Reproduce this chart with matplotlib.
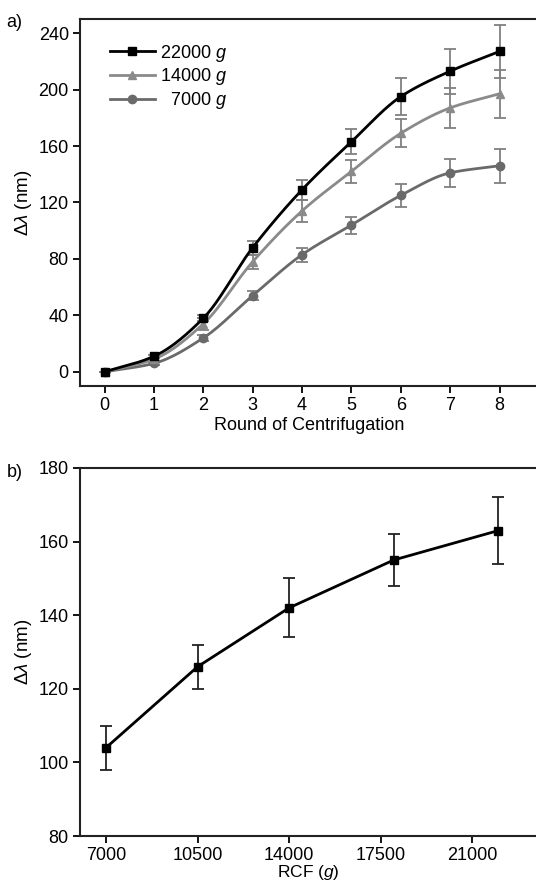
import numpy as np
import matplotlib
matplotlib.use("Agg")
import matplotlib.pyplot as plt

plt.rcParams['font.family'] = ['Liberation Sans', 'DejaVu Sans']
plt.rcParams['mathtext.fontset'] = 'custom'
plt.rcParams['mathtext.rm'] = 'Liberation Sans'
plt.rcParams['mathtext.it'] = 'Liberation Sans:italic'
plt.rcParams['font.size'] = 12

# panel a data
rounds = [0, 1, 2, 3, 4, 5, 6, 7, 8]
g22000 = [0, 11, 38, 88, 129, 163, 195, 213, 227]
g22000_err = [0, 1, 2, 5, 7, 9, 13, 16, 19]
g14000 = [0, 9, 34, 78, 114, 142, 169, 187, 197]
g14000_err = [0, 1, 4, 5, 8, 8, 10, 14, 17]
g7000 = [0, 6, 24, 54, 83, 104, 125, 141, 146]
g7000_err = [0, 1, 2, 3, 5, 6, 8, 10, 12]

# panel b data
rcf = [7000, 10500, 14000, 18000, 22000]
shift = [104, 126, 142, 155, 163]
shift_err = [6, 6, 8, 7, 9]


def smooth(x, y, n=200):
    # monotone cubic (pchip) curve through the points, for drawing only
    x = np.asarray(x, float)
    y = np.asarray(y, float)
    h = np.diff(x)
    d = np.diff(y) / h
    m = np.zeros_like(y)
    for i in range(1, len(x) - 1):
        if d[i - 1] * d[i] > 0:
            w1 = 2 * h[i] + h[i - 1]
            w2 = h[i] + 2 * h[i - 1]
            m[i] = (w1 + w2) / (w1 / d[i - 1] + w2 / d[i])
    m[0] = d[0]
    m[-1] = d[-1]
    xs = np.linspace(x[0], x[-1], n)
    idx = np.clip(np.searchsorted(x, xs) - 1, 0, len(x) - 2)
    t = (xs - x[idx]) / h[idx]
    h00 = 2 * t ** 3 - 3 * t ** 2 + 1
    h10 = t ** 3 - 2 * t ** 2 + t
    h01 = -2 * t ** 3 + 3 * t ** 2
    h11 = t ** 3 - t ** 2
    ys = h00 * y[idx] + h10 * h[idx] * m[idx] + h01 * y[idx + 1] + h11 * h[idx] * m[idx + 1]
    return xs, ys


fig = plt.figure(figsize=(5.36, 8.83), dpi=100)
ax1 = fig.add_axes([0.149, 0.5629, 1.0056 - 0.149, 0.9785 - 0.5629])
ax2 = fig.add_axes([0.149, 0.0532, 1.003 - 0.149, 0.470 - 0.0532])

series = [
    (g22000, g22000_err, '#000000', 's', '22000 $g$'),
    (g14000, g14000_err, '#8a8a8a', '^', '14000 $g$'),
    (g7000, g7000_err, '#6a6a6a', 'o', '  7000 $g$'),
]
for vals, err, col, mk, lab in series[::-1]:
    ax1.errorbar(rounds, vals, yerr=err, fmt='none', ecolor='#808080',
                 elinewidth=1.3, capsize=4, capthick=1.3, zorder=2)
    xs, ys = smooth(rounds, vals)
    ax1.plot(xs, ys, color=col, lw=2, zorder=3)
    ax1.plot(rounds, vals, linestyle='none', marker=mk, color=col, ms=6, zorder=4)

handles = [plt.Line2D([], [], color=c, marker=m, lw=2, ms=6) for _, _, c, m, _ in series]
ax1.legend(handles, [s[4] for s in series], loc='upper left', frameon=False,
           bbox_to_anchor=(0.03, 0.98), handlelength=2.5, handletextpad=0.25,
           labelspacing=0.15, fontsize=13)

ax1.set_xlim(-0.5, 8.8)
ax1.set_ylim(-10, 250)
ax1.set_xticks(rounds)
ax1.set_yticks([0, 40, 80, 120, 160, 200, 240])
ax1.set_xlabel('Round of Centrifugation', fontsize=13, labelpad=2)
ax1.set_ylabel('$\\mathit{Δλ}$ (nm)', fontsize=13.5, labelpad=3)

ax2.errorbar(rcf, shift, yerr=shift_err, color='black', lw=2, marker='s', ms=6,
             ecolor='#222222', elinewidth=1.3, capsize=4, capthick=1.3)
ax2.set_xlim(6000, 23500)
ax2.set_ylim(80, 180)
ax2.set_xticks([7000, 10500, 14000, 17500, 21000])
ax2.set_yticks([80, 100, 120, 140, 160, 180])
ax2.set_xlabel('RCF ($g$)', fontsize=12.5, labelpad=-1)
ax2.set_ylabel('$\\mathit{Δλ}$ (nm)', fontsize=13.5, labelpad=3)

for ax in (ax1, ax2):
    for s in ax.spines.values():
        s.set_linewidth(1.5)
        s.set_color('#222222')
    ax.tick_params(direction='out', length=5, width=1.3, labelsize=13,
                   top=False, right=False, pad=3)

fig.text(0.012, 0.974, 'a)', fontsize=13, va='center')
fig.text(0.012, 0.465, 'b)', fontsize=13, va='center')

fig.savefig('out.png', dpi=100)
